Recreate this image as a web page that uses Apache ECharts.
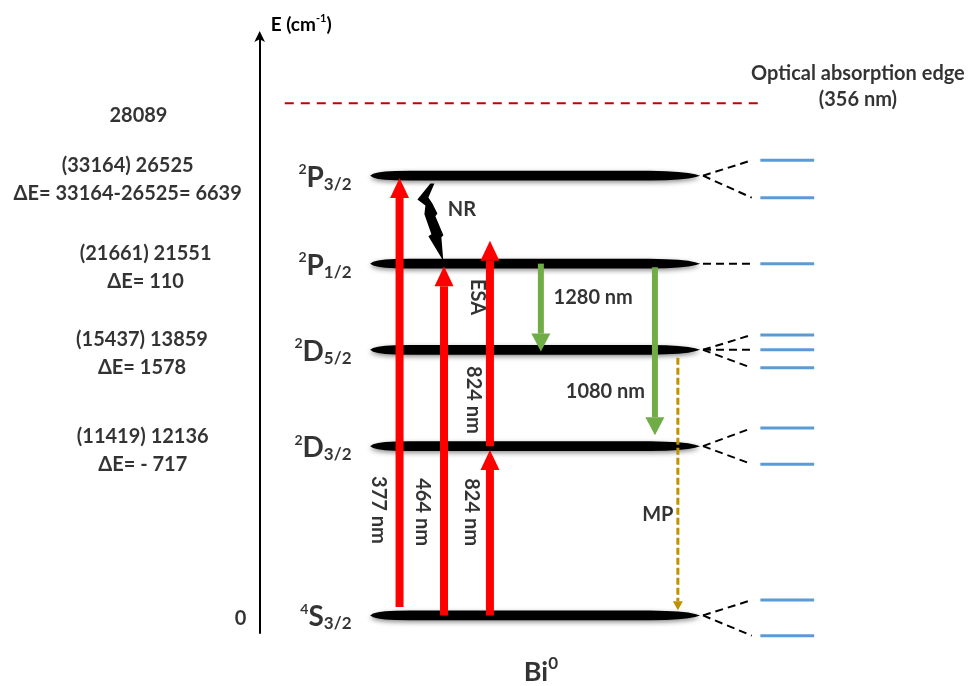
<!DOCTYPE html>
<html><head><meta charset="utf-8">
<script src="https://cdn.jsdelivr.net/npm/echarts@6/dist/echarts.min.js"></script>
<style>html,body{margin:0;padding:0;background:#fff}#c{width:977px;height:686px}</style>
</head><body><div id="c"></div>
<script>
// ---- Energy levels of Bi0 (schematic height on the diagram, ground = 0) ----
const levelMult   = ['4', '2', '2', '2', '2'];
const levelLetter = ['S', 'D', 'D', 'P', 'P'];
const levelJ      = ['3/2', '3/2', '5/2', '1/2', '3/2'];
const levelY      = [0, 38.5, 60.4, 80, 100];
const levelSpan   = [15.4, 61.4];
// energy annotations (cm-1)
const energyTop    = ['0', '(11419) 12136', '(15437) 13859', '(21661) 21551', '(33164) 26525'];
const energyBottom = ['', 'ΔE= - 717', 'ΔE= 1578', 'ΔE= 110', 'ΔE= 33164-26525= 6639'];
// optical absorption edge
const edgeValue = '28089';
const edgeY = 116.5;
const edgeText = ['Optical absorption edge', '(356 nm)'];
// crystal-field sublevels for each level
const subLevelY = [[3.5, -4.6], [42.6, 34.4], [63.8, 60.4, 56.3], [80], [103.5, 95.0]];
// excitation (absorption / ESA) arrows
const excName = ['377 nm', '464 nm', '824 nm', '824 nm'];
const excX    = [19.5, 25.7, 32.1, 32.1];
const excFrom = [1.9, 0, 0, 38.5];
const excTo   = [99.5, 79.4, 37.6, 85.2];
// emission arrows
const emName = ['1280 nm', '1080 nm'];
const emX    = [39.2, 55.1];
const emFrom = [80, 79.2];
const emTo   = [60.0, 41.0];
// multiphonon relaxation
const mpX = 58.3, mpFrom = 58.6, mpTo = 1.2;
// non-radiative relaxation
const nrX = [23.8, 25.6], nrFrom = 98.2, nrTo = 80.6;

// ---- text placement (diagram units) ----
const energyLabelX = [-2, -16.3, -16.4, -15.9, -18.4];
const rotLabelPos = [[16.6, 24.0], [22.7, 23.5], [29.5, 23.5], [29.8, 49]];

const FONT = 'Lato';
const chart = echarts.init(document.getElementById('c'));

function arrowRender(color, shaftW, headW, headL) {
  return function (params, api) {
    const p0 = api.coord([api.value(0), api.value(1)]);
    const p1 = api.coord([api.value(0), api.value(2)]);
    const dir = p1[1] < p0[1] ? -1 : 1;
    const neck = p1[1] - dir * headL;
    return {
      type: 'group', children: [
        { type: 'rect', shape: { x: p0[0] - shaftW / 2, y: Math.min(p0[1], neck), width: shaftW, height: Math.abs(neck - p0[1]) }, style: { fill: color } },
        { type: 'polygon', shape: { points: [[p1[0], p1[1]], [p1[0] - headW / 2, neck], [p1[0] + headW / 2, neck]] }, style: { fill: color } }
      ]
    };
  };
}

const levelData = levelY.map(y => [levelSpan[0], levelSpan[1], y]);
const splitData = [];
const blueData = [];
levelY.forEach((y, i) => {
  subLevelY[i].forEach(s => { splitData.push([y, s]); blueData.push([s]); });
});

function st(size, extra) {
  return Object.assign({ fontSize: size, fontWeight: 'bold', fontFamily: FONT, color: '#000' }, extra || {});
}
const supRich = {
  m: st(28, { lineHeight: 30, verticalAlign: 'middle' }),
  p: st(14, { lineHeight: 16, verticalAlign: 'top' }),
  b: st(17, { lineHeight: 10, verticalAlign: 'bottom' }),
  t: st(20, { lineHeight: 28 }),
  e: st(20, { lineHeight: 26 }),
  big: st(27, { lineHeight: 34, verticalAlign: 'middle' }),
  bigs: st(17, { lineHeight: 14, verticalAlign: 'top' })
};

const texts = [];
function addText(x, y, fmt, extra) {
  texts.push({ value: [x, y], label: Object.assign({ formatter: fmt }, extra || {}) });
}
levelY.forEach((y, i) => {
  addText(12.8, y, '{p|' + levelMult[i] + '}{m|' + levelLetter[i] + '}{b|' + levelJ[i] + '}', { align: 'right', offset: [0, 2] });
  if (energyBottom[i]) {
    addText(energyLabelX[i], y, '{t|' + energyTop[i] + '}\n{t|' + energyBottom[i] + '}', { align: 'center', offset: [0, 4] });
  } else {
    addText(energyLabelX[i], y, '{t|' + energyTop[i] + '}', { align: 'right', offset: [1, 3] });
  }
});
addText(-16.9, edgeY, '{t|' + edgeValue + '}', { align: 'center', offset: [0, 12] });
addText(83.4, edgeY, '{e|' + edgeText[0] + '}\n{e|' + edgeText[1] + '}', { align: 'center', offset: [0, -17] });
excName.forEach((n, i) => addText(rotLabelPos[i][0], rotLabelPos[i][1], '{t|' + n + '}', { rotate: -90, align: 'center' }));
addText(30.4, 72.4, '{t|ESA}', { rotate: -90, align: 'center' });
addText(46.5, 72.2, '{t|' + emName[0] + '}', { align: 'center' });
addText(48.2, 50.8, '{t|' + emName[1] + '}', { align: 'center' });
addText(28.2, 92.4, '{t|NR}', { align: 'center' });
addText(55.5, 22.9, '{t|MP}', { align: 'center' });
addText(39.2, -12.9, '{big|Bi}{bigs|0}', { align: 'center' });

const option = {
  animation: false,
  grid: { left: 0, right: 0, top: 35, bottom: 53 },
  xAxis: { type: 'value', min: -36.2, max: 100, axisLine: { show: false }, axisTick: { show: false }, axisLabel: { show: false }, splitLine: { show: false } },
  yAxis: {
    type: 'value', min: -4, max: 132,
    axisLine: { show: true, onZero: true, symbol: ['none', 'arrow'], symbolSize: [8, 11], symbolOffset: [0, 4], lineStyle: { color: '#000', width: 2 } },
    axisTick: { show: false }, axisLabel: { show: false }, splitLine: { show: false },
    name: '{n|E (cm}{s|-1}{n|)}', nameLocation: 'end', nameGap: 10,
    nameTextStyle: {
      align: 'left', verticalAlign: 'middle', padding: [0, 0, 0, 11],
      fontSize: 18, fontWeight: 'bold', fontFamily: FONT, color: '#000',
      rich: { n: st(19, { lineHeight: 24, verticalAlign: 'middle' }), s: st(11, { lineHeight: 10, verticalAlign: 'top' }) }
    }
  },
  series: [
    { // absorption edge
      type: 'custom', clip: false, silent: true, data: [[3.5, 69.7, edgeY]],
      renderItem: (p, api) => {
        const a = api.coord([api.value(0), api.value(2)]), b = api.coord([api.value(1), api.value(2)]);
        return { type: 'line', shape: { x1: a[0], y1: a[1], x2: b[0], y2: b[1] }, style: { stroke: '#c00000', lineWidth: 2, lineDash: [9, 7] } };
      }
    },
    { // energy levels
      type: 'custom', clip: false, silent: true, data: levelData,
      renderItem: (p, api) => {
        const a = api.coord([api.value(0), api.value(2)]), b = api.coord([api.value(1), api.value(2)]);
        const y = a[1], x0 = a[0], x1 = b[0];
        const prof = [[0, 0], [3, 1.9], [8, 3.2], [15, 4.1], [25, 4.6], [40, 4.9]];
        const profR = [[0, 0], [5, 1.5], [12, 2.8], [22, 3.8], [34, 4.5], [50, 4.9]];
        const pts = [];
        prof.forEach(q => pts.push([x0 + q[0], y - q[1]]));
        profR.slice().reverse().forEach(q => pts.push([x1 - q[0], y - q[1]]));
        profR.slice(1).forEach(q => pts.push([x1 - q[0], y + q[1]]));
        prof.slice(1).reverse().forEach(q => pts.push([x0 + q[0], y + q[1]]));
        return { type: 'polygon', shape: { points: pts }, style: { fill: '#000', shadowBlur: 5, shadowColor: 'rgba(0,0,0,0.45)', shadowOffsetY: 2 } };
      }
    },
    { // dashed split lines
      type: 'custom', clip: false, silent: true, data: splitData,
      renderItem: (p, api) => {
        const a = api.coord([61.8, api.value(0)]), b = api.coord([68.6, api.value(1)]);
        return { type: 'line', shape: { x1: a[0], y1: a[1], x2: b[0], y2: b[1] }, style: { stroke: '#000', lineWidth: 2, lineDash: [8, 5] } };
      }
    },
    { // crystal-field sublevels
      type: 'custom', clip: false, silent: true, data: blueData,
      renderItem: (p, api) => {
        const a = api.coord([69.8, api.value(0)]), b = api.coord([77.3, api.value(0)]);
        return { type: 'line', shape: { x1: a[0], y1: a[1], x2: b[0], y2: b[1] }, style: { stroke: '#5b9bd5', lineWidth: 3 } };
      }
    },
    { // excitation arrows
      type: 'custom', clip: false, silent: true,
      data: excX.map((x, i) => [x, excFrom[i], excTo[i]]),
      renderItem: arrowRender('#ff0000', 8, 19, 20)
    },
    { // emission arrows
      type: 'custom', clip: false, silent: true,
      data: emX.map((x, i) => [x, emFrom[i], emTo[i]]),
      renderItem: arrowRender('#70ad47', 6, 19, 18)
    },
    { // multiphonon relaxation
      type: 'custom', clip: false, silent: true, data: [[mpX, mpFrom, mpTo]],
      renderItem: (p, api) => {
        const p0 = api.coord([api.value(0), api.value(1)]), p1 = api.coord([api.value(0), api.value(2)]);
        const neck = p1[1] - 9;
        return { type: 'group', children: [
          { type: 'line', shape: { x1: p0[0], y1: p0[1], x2: p0[0], y2: neck }, style: { stroke: '#bf9000', lineWidth: 3, lineDash: [7, 3] } },
          { type: 'polygon', shape: { points: [[p1[0], p1[1]], [p1[0] - 5, neck], [p1[0] + 5, neck]] }, style: { fill: '#bf9000' } }
        ] };
      }
    },
    { // NR lightning bolt
      type: 'custom', clip: false, silent: true, data: [[nrX[0], nrFrom, nrX[1], nrTo]],
      renderItem: (p, api) => {
        const a = api.coord([api.value(0), api.value(1)]), b = api.coord([api.value(2), api.value(3)]);
        const L = b[1] - a[1];
        const shape = [[0, 0], [-13, 0.205], [-5, 0.282], [-6, 0.397], [1, 0.654], [-2, 0.679], [b[0] - a[0], 1.0],
                       [11, 0.692], [13, 0.667], [5, 0.423], [7, 0.385], [2, 0.256], [-2, 0.179], [4, 0]];
        return { type: 'polygon', shape: { points: shape.map(q => [a[0] + q[0], a[1] + q[1] * L]) }, style: { fill: '#000' } };
      }
    },
    { // texts
      type: 'scatter', clip: false, silent: true, symbol: 'circle', symbolSize: 1,
      itemStyle: { color: 'rgba(0,0,0,0)' },
      label: { show: true, position: 'inside', color: '#000', fontFamily: FONT, fontWeight: 'bold', fontSize: 20, rich: supRich },
      data: texts
    }
  ]
};
chart.setOption(option);
</script>
</body></html>
